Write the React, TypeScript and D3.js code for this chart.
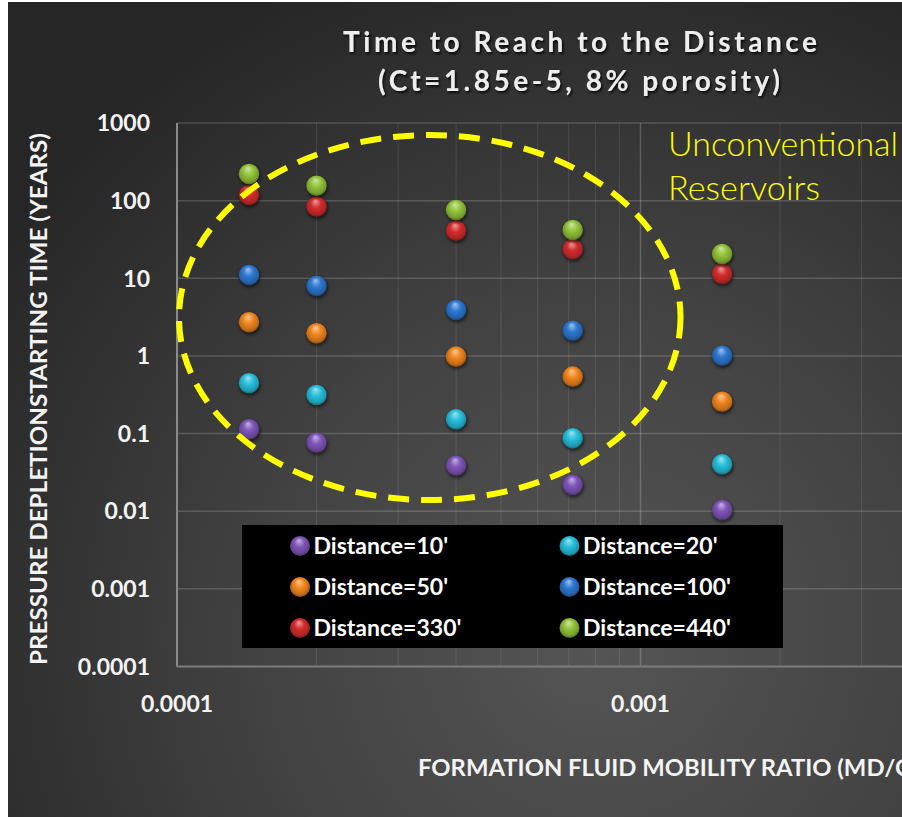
import React from "react";
import * as d3 from "d3";

// Mobility ratio (md/cp) for each well case
const mobility = [1.43e-4, 2e-4, 4e-4, 7.14e-4, 1.5e-3];

// Time (years) before pressure depletion reaches each distance
const dist10 = [0.113, 0.076, 0.0385, 0.0217, 0.0103];
const dist20 = [0.444, 0.313, 0.152, 0.0867, 0.04];
const dist50 = [2.71, 1.95, 0.977, 0.54, 0.257];
const dist100 = [11.0, 7.94, 3.9, 2.11, 1.005];
const dist330 = [118, 83.5, 41, 23.6, 11.35];
const dist440 = [220, 155.7, 75.7, 41.9, 20.5];

const seriesNames = [
  "Distance=10'",
  "Distance=20'",
  "Distance=50'",
  "Distance=100'",
  "Distance=330'",
  "Distance=440'",
];
const seriesValues = [dist10, dist20, dist50, dist100, dist330, dist440];
const seriesColors = ["#7f55b8", "#27bfdc", "#f2861e", "#2d78d2", "#d42c2c", "#93c43a"];

const yTicks = [0.0001, 0.001, 0.01, 0.1, 1, 10, 100, 1000];
const yTickLabels = ["0.0001", "0.001", "0.01", "0.1", "1", "10", "100", "1000"];
const xTicks = [0.0001, 0.001];
const xTickLabels = ["0.0001", "0.001"];

// Region outlined as unconventional reservoirs (mobility, years)
const regionX = [1.01e-4, 1.22e-3];
const regionY = [0.0139, 700];

const W = 902;
const H = 817;
const font = "Lato, 'Open Sans', sans-serif";

export default function App() {
  const x = d3.scaleLog().domain([1e-4, 1e-2]).range([177, 177 + 2 * 463.5]);
  const y = d3.scaleLog().domain([1e-4, 1000]).range([666.4, 123]);

  const minorX: number[] = [];
  for (let dec = 1e-4; dec < 1e-2; dec *= 10) {
    for (let m = 2; m <= 9; m++) minorX.push(dec * m);
  }

  const shade = (c: string, k: number) =>
    k > 0 ? d3.interpolateRgb(c, "#ffffff")(k) : d3.interpolateRgb(c, "#000000")(-k);

  const ex0 = x(regionX[0]);
  const ex1 = x(regionX[1]);
  const ey0 = y(regionY[1]);
  const ey1 = y(regionY[0]);

  const legendRows = [
    [0, 1],
    [2, 3],
    [4, 5],
  ];

  return (
    <svg
      width={W}
      height={H}
      style={{ position: "absolute", left: 0, top: 0, display: "block" }}
      fontFamily={font}
    >
      <defs>
        <radialGradient id="bg" gradientUnits="userSpaceOnUse" cx={600} cy={640} r={720}>
          <stop offset="0" stopColor="#555555" />
          <stop offset="0.5" stopColor="#414141" />
          <stop offset="1" stopColor="#262626" />
        </radialGradient>
        {seriesColors.map((c, i) => (
          <radialGradient key={i} id={`ball${i}`} cx="0.5" cy="0.45" r="0.55" fx="0.45" fy="0.22">
            <stop offset="0" stopColor={shade(c, 0.55)} />
            <stop offset="0.45" stopColor={c} />
            <stop offset="0.85" stopColor={shade(c, -0.2)} />
            <stop offset="1" stopColor={shade(c, -0.45)} />
          </radialGradient>
        ))}
        <filter id="ballShadow" x="-50%" y="-50%" width="200%" height="200%">
          <feGaussianBlur stdDeviation="1.5" />
        </filter>
        <filter id="titleShadow" x="-10%" y="-30%" width="120%" height="160%">
          <feDropShadow dx="1.5" dy="2" stdDeviation="1.2" floodColor="#000" floodOpacity="0.8" />
        </filter>
      </defs>

      <rect x={0} y={0} width={W} height={H} fill="#ffffff" />
      <rect x={8} y={2} width={W - 8} height={H - 2} fill="url(#bg)" />

      {/* gridlines */}
      <g>
        {minorX.map((v, i) => (
          <line
            key={`mx${i}`}
            x1={x(v)}
            x2={x(v)}
            y1={y(1000)}
            y2={y(1e-4)}
            stroke="#ffffff"
            strokeOpacity={0.1}
            strokeWidth={1}
          />
        ))}
        {xTicks.map((v, i) => (
          <line
            key={`Mx${i}`}
            x1={x(v)}
            x2={x(v)}
            y1={y(1000)}
            y2={y(1e-4)}
            stroke="#ffffff"
            strokeOpacity={0.2}
            strokeWidth={1.5}
          />
        ))}
        {yTicks.map((v, i) => (
          <line
            key={`gy${i}`}
            x1={x(1e-4)}
            x2={W}
            y1={y(v)}
            y2={y(v)}
            stroke="#ffffff"
            strokeOpacity={0.17}
            strokeWidth={1.5}
          />
        ))}
        <line x1={x(1e-4)} x2={x(1e-4)} y1={y(1000)} y2={y(1e-4)} stroke="#8a8a8a" strokeWidth={2} />
        <line x1={x(1e-4)} x2={W} y1={y(1e-4)} y2={y(1e-4)} stroke="#7a7a7a" strokeWidth={2} />
      </g>

      {/* tick labels */}
      <g fill="#f4f4f4" fontWeight={700} fontSize={23}>
        {yTicks.map((v, i) => (
          <text key={`ty${i}`} x={150} y={y(v)} dy="0.36em" textAnchor="end">
            {yTickLabels[i]}
          </text>
        ))}
        {xTicks.map((v, i) => (
          <text key={`tx${i}`} x={x(v)} y={712} textAnchor="middle">
            {xTickLabels[i]}
          </text>
        ))}
      </g>

      {/* axis titles */}
      <text
        transform={`translate(47,399) rotate(-90)`}
        textAnchor="middle"
        fill="#f4f4f4"
        fontWeight={700}
        fontSize={22}
        textLength={532}
        lengthAdjust="spacingAndGlyphs"
      >
        PRESSURE DEPLETIONSTARTING TIME  (YEARS)
      </text>
      <text
        x={418}
        y={776}
        fill="#f4f4f4"
        fontWeight={700}
        fontSize={23}
        textLength={514}
        lengthAdjust="spacingAndGlyphs"
      >
        FORMATION FLUID MOBILITY RATIO (MD/CP)
      </text>

      {/* title */}
      <g filter="url(#titleShadow)" fill="#eeeeee" fontWeight={700} fontSize={28} textAnchor="middle">
        <text x={580} y={52} textLength={474} lengthAdjust="spacing">
          Time to Reach to the Distance
        </text>
        <text x={579} y={91} textLength={402} lengthAdjust="spacing">
          (Ct=1.85e-5, 8% porosity)
        </text>
      </g>

      {/* data points */}
      <g>
        {seriesValues.map((vals, s) => (
          <g key={`s${s}`}>
            {vals.map((v, i) => (
              <g key={i}>
                <circle
                  cx={x(mobility[i]) + 0.8}
                  cy={y(v) + 1.8}
                  r={10.8}
                  fill="#000"
                  opacity={0.5}
                  filter="url(#ballShadow)"
                />
                <circle cx={x(mobility[i])} cy={y(v)} r={10.3} fill={`url(#ball${s})`} />
              </g>
            ))}
          </g>
        ))}
      </g>

      {/* unconventional reservoir outline */}
      <ellipse
        cx={(ex0 + ex1) / 2}
        cy={(ey0 + ey1) / 2}
        rx={(ex1 - ex0) / 2}
        ry={(ey1 - ey0) / 2}
        fill="none"
        stroke="#ffff00"
        strokeWidth={6}
        strokeDasharray="21 12"
      />
      <g fill="#ffff00" fontWeight={300} fontSize={33}>
        <text x={668} y={156} textLength={230} lengthAdjust="spacingAndGlyphs">
          Unconventional
        </text>
        <text x={668} y={200} textLength={152} lengthAdjust="spacingAndGlyphs">
          Reservoirs
        </text>
      </g>

      {/* legend */}
      <g>
        <rect x={242} y={525} width={541} height={123} fill="#000000" />
        {legendRows.map((row, r) =>
          row.map((s, c) => {
            const cx = c === 0 ? 300 : 569.5;
            const cy = 546 + r * 41;
            return (
              <g key={`lg${s}`}>
                <circle cx={cx} cy={cy} r={10} fill={`url(#ball${s})`} />
                <text
                  x={cx + 13.5}
                  y={cy}
                  dy="0.36em"
                  fill="#ffffff"
                  fontWeight={700}
                  fontSize={23}
                >
                  {seriesNames[s]}
                </text>
              </g>
            );
          })
        )}
      </g>
    </svg>
  );
}
